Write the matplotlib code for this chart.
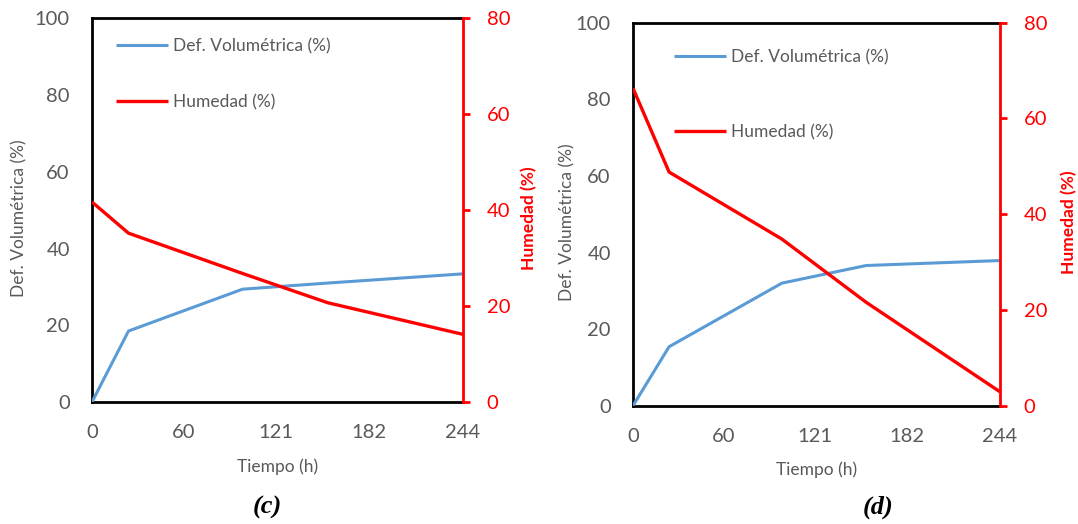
import matplotlib
matplotlib.use("Agg")
import matplotlib.pyplot as plt

# Drying time (h) at each measurement
tiempo = [0, 24, 99, 155, 244]

# Panel (c)
def_vol_c = [0.0, 18.5, 29.4, 31.0, 33.4]
humedad_c = [41.7, 35.2, 26.8, 20.7, 14.1]

# Panel (d)
def_vol_d = [0.0, 15.4, 32.0, 36.6, 37.9]
humedad_d = [66.3, 48.8, 34.8, 21.6, 2.9]

x_ticks = [0, 60, 121, 182, 244]
left_ticks = [0, 20, 40, 60, 80, 100]
right_ticks = [0, 20, 40, 60, 80]

FONT = "Lato"
GRAY = "#595959"
BLUE = "#5B9BD5"
RED = "#FF0000"

plt.rcParams["font.family"] = [FONT, "DejaVu Sans"]

fig = plt.figure(figsize=(10.78, 5.24), dpi=100)
W, H = 1078, 524


def make_panel(px_box, dv, hu, caption, cap_xy, leg_anchor, leg_spacing,
               ylab_x, y2lab_x):
    x0, y0, x1, y1 = px_box
    ax = fig.add_axes([x0 / W, 1 - y1 / H, (x1 - x0) / W, (y1 - y0) / H])
    ax2 = ax.twinx()

    l1, = ax.plot(tiempo, dv, color=BLUE, lw=2.2, solid_capstyle="butt",
                  label="Def. Volumétrica (%)", zorder=3)
    l2, = ax2.plot(tiempo, hu, color=RED, lw=2.4, solid_capstyle="butt",
                   label="Humedad (%)", zorder=3)

    ax.set_xlim(0, 244)
    ax.set_ylim(0, 100)
    ax2.set_ylim(0, 80)
    ax.set_xticks(x_ticks)
    ax.set_yticks(left_ticks)
    ax2.set_yticks(right_ticks)

    for s in ("left", "top", "bottom"):
        ax.spines[s].set_color("black")
        ax.spines[s].set_linewidth(2)
    ax.spines["right"].set_visible(False)
    for s in ("left", "top", "bottom"):
        ax2.spines[s].set_visible(False)
    ax2.spines["right"].set_color(RED)
    ax2.spines["right"].set_linewidth(2)

    ax.tick_params(axis="x", length=0, pad=16, labelsize=14.5, labelcolor=GRAY)
    ax.tick_params(axis="y", length=0, pad=16, labelsize=14.5, labelcolor=GRAY)
    ax2.tick_params(axis="y", length=5, width=2, color=RED, pad=12,
                    labelsize=14.5, labelcolor=RED, direction="out")

    ax.set_xlabel("Tiempo (h)", fontsize=12.5, color=GRAY, va="center")
    ax.xaxis.set_label_coords(0.5, -0.168)
    ax.set_ylabel("Def. Volumétrica (%)", fontsize=12.5, color=GRAY, va="center")
    ax.yaxis.set_label_coords(ylab_x, 0.48)
    ax2.set_ylabel("Humedad (%)", fontsize=12.5, color=RED, fontweight="bold",
                   va="center")
    ax2.yaxis.set_label_coords(y2lab_x, 0.48)

    leg = ax2.legend(handles=[l1, l2], loc="center left",
                     bbox_to_anchor=leg_anchor, frameon=False, borderpad=0,
                     borderaxespad=0, handlelength=3.0, handletextpad=0.3,
                     labelspacing=leg_spacing, fontsize=12.5)
    for t in leg.get_texts():
        t.set_color(GRAY)

    fig.text(cap_xy[0] / W, 1 - cap_xy[1] / H, caption,
             family="Liberation Serif", fontweight="bold", style="italic",
             fontsize=19, ha="center", va="center", color="black")
    return ax


make_panel((92, 18.3, 463, 402), def_vol_c, humedad_c, "(c)", (267, 507),
           (0.065, 0.854), 2.3, -0.197, 1.178)
make_panel((633, 22.7, 1000, 405.7), def_vol_d, humedad_d, "(d)", (878, 507),
           (0.112, 0.8125), 3.4, -0.18, 1.188)

fig.savefig("out.png", dpi=100)
